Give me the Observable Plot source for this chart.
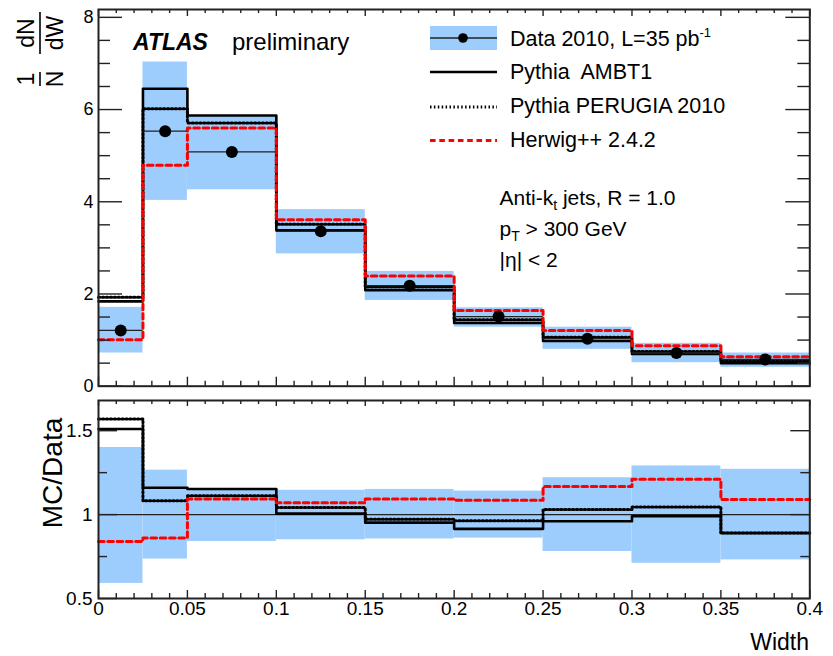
<!DOCTYPE html>
<html>
<head>
<meta charset="utf-8">
<script src="https://cdn.jsdelivr.net/npm/d3@7"></script>
<script src="https://cdn.jsdelivr.net/npm/@observablehq/plot@0.6"></script>
<style>
  body { margin: 0; background: #fff; }
  #chart { position: relative; width: 833px; height: 656px; font-family: "Liberation Sans", Arial, Helvetica, sans-serif; }
  #chart svg { position: absolute; left: 0; overflow: visible; }
  .pre { white-space: pre; }
</style>
</head>
<body>
<div id="chart"></div>
<script>
// Jet width bins (variable width: the first two are half as wide)
const binEdges = [0, 0.025, 0.05, 0.1, 0.15, 0.2, 0.25, 0.3, 0.35, 0.4];

// Normalised distribution 1/N dN/dW
const data2010    = [1.21, 5.53, 5.08, 3.36, 2.18, 1.51, 1.03, 0.72, 0.58];
const data2010Lo  = [0.72, 4.03, 4.26, 2.87, 1.86, 1.28, 0.80, 0.51, 0.41];
const data2010Hi  = [1.71, 7.03, 5.87, 3.83, 2.49, 1.70, 1.28, 0.93, 0.72];
const pythiaAMBT1 = [1.84, 6.45, 5.87, 3.38, 2.08, 1.37, 0.98, 0.70, 0.50];
const pythiaPerugia = [1.93, 6.02, 5.71, 3.51, 2.15, 1.44, 1.06, 0.75, 0.54];
const herwig      = [1.01, 4.79, 5.60, 3.61, 2.39, 1.64, 1.21, 0.88, 0.64];

// MC/Data ratios and the relative data uncertainty band
const ratioBandLo = [0.59, 0.735, 0.84, 0.85, 0.855, 0.86, 0.78, 0.71, 0.73];
const ratioBandHi = [1.40, 1.265, 1.155, 1.145, 1.15, 1.14, 1.22, 1.29, 1.27];
const ratioAMBT1   = [1.51, 1.16, 1.153, 1.006, 0.952, 0.915, 0.96, 0.99, 0.89];
const ratioPerugia = [1.57, 1.083, 1.113, 1.043, 0.972, 0.964, 1.03, 1.046, 0.89];
const ratioHerwig  = [0.84, 0.86, 1.093, 1.07, 1.093, 1.085, 1.167, 1.21, 1.09];

// Axis ticks
const xLabelTicks = [0, 0.05, 0.1, 0.15, 0.2, 0.25, 0.3, 0.35, 0.4];
const yTopTicks = [0, 2, 4, 6, 8];
const yRatioTicks = [0.5, 1, 1.5];

const font = `"Liberation Sans", Arial, Helvetica, sans-serif`;
const blue = "#9dcdfc";

// shared panel geometry
const W = 833, mL = 98, mR = 23.7;
const innerW = W - mL - mR;

const bins = data2010.map((v, i) => ({
  x1: binEdges[i], x2: binEdges[i + 1], xc: (binEdges[i] + binEdges[i + 1]) / 2,
  v, lo: data2010Lo[i], hi: data2010Hi[i],
  rlo: ratioBandLo[i], rhi: ratioBandHi[i]
}));

// histogram outline: one point per bin edge, drawn with a step curve
const steps = vals => [
  ...vals.map((v, i) => ({x: binEdges[i], y: v})),
  {x: binEdges[binEdges.length - 1], y: vals[vals.length - 1]}
];

const near = (a, b) => Math.abs(a - b) < 1e-9;
const xMinor = d3.range(0, 0.4001, 0.01).filter(t => !xLabelTicks.some(m => near(m, t)));
const yTopMinor = d3.range(0, 8.01, 0.5).filter(t => !yTopTicks.includes(t));
const yRatioMinor = [0.75, 1.25];

// inward ticks on all four sides of a panel, drawn as short rules
const tk = {stroke: "#222", strokeWidth: 1.4};
function ticksX(innerH, major, minor, majLen, minLen) {
  return [
    Plot.ruleX(major, {...tk, x: d => d, insetTop: innerH - majLen}),
    Plot.ruleX(minor, {...tk, x: d => d, insetTop: innerH - minLen}),
    Plot.ruleX(major, {...tk, x: d => d, insetBottom: innerH - majLen + 2}),
    Plot.ruleX(minor, {...tk, x: d => d, insetBottom: innerH - minLen + 1})
  ];
}
function ticksY(major, minor, majLen, minLen) {
  return [
    Plot.ruleY(major, {...tk, y: d => d, insetRight: innerW - majLen}),
    Plot.ruleY(minor, {...tk, y: d => d, insetRight: innerW - minLen}),
    Plot.ruleY(major, {...tk, y: d => d, insetLeft: innerW - majLen}),
    Plot.ruleY(minor, {...tk, y: d => d, insetLeft: innerW - minLen})
  ];
}

const mcLines = (a, p, h) => [
  Plot.line(steps(a), {x: "x", y: "y", curve: "step-after", stroke: "black", strokeWidth: 2.6}),
  Plot.line(steps(p), {x: "x", y: "y", curve: "step-after", stroke: "black", strokeWidth: 3, strokeDasharray: "1.5,2.4"}),
  Plot.line(steps(h), {x: "x", y: "y", curve: "step-after", stroke: "#ff0000", strokeWidth: 3, strokeDasharray: "5.6,3.7"})
];

const style = {fontFamily: font, fontSize: "18px", color: "black", background: "none", overflow: "visible"};

// ---- upper panel: normalised distributions ----
const upperH = 390, upperTop = 9, upperBottom = 4.3;
const upperPanel = Plot.plot({
  width: W, height: upperH,
  marginLeft: mL, marginRight: mR, marginTop: upperTop, marginBottom: upperBottom,
  style,
  x: {domain: [0, 0.4], axis: null},
  y: {domain: [0, 8.17]},
  marks: [
    Plot.rect(bins, {x1: "x1", x2: "x2", y1: "lo", y2: "hi", fill: blue}),
    ...mcLines(pythiaAMBT1, pythiaPerugia, herwig),
    Plot.ruleY(bins, {y: "v", x1: "x1", x2: "x2", stroke: "#222", strokeWidth: 1.3}),
    Plot.dot(bins, {x: "xc", y: "v", r: 6, fill: "black"}),
    ...ticksX(upperH - upperTop - upperBottom, xLabelTicks, xMinor, 9, 5),
    ...ticksY(yTopTicks, yTopMinor, 24, 12),
    Plot.axisY({ticks: yTopTicks, tickSize: 0, tickPadding: 5, label: null, fontSize: 18}),
    Plot.frame({stroke: "#222", strokeWidth: 2})
  ]
});
upperPanel.style.top = "0px";

// ---- lower panel: MC/Data ----
const lowerH = 266, lowerTop = 10, lowerBottom = 58;
const lowerPanel = Plot.plot({
  width: W, height: lowerH,
  marginLeft: mL, marginRight: mR, marginTop: lowerTop, marginBottom: lowerBottom,
  style,
  x: {domain: [0, 0.4]},
  y: {domain: [0.5, 1.68]},
  marks: [
    Plot.rect(bins, {x1: "x1", x2: "x2", y1: "rlo", y2: "rhi", fill: blue}),
    Plot.ruleY([1], {stroke: "#222", strokeWidth: 1.2}),
    ...mcLines(ratioAMBT1, ratioPerugia, ratioHerwig),
    ...ticksX(lowerH - lowerTop - lowerBottom, xLabelTicks, xMinor, 8, 5),
    ...ticksY(yRatioTicks, yRatioMinor, 19, 9),
    Plot.axisX({ticks: xLabelTicks, tickSize: 0, tickPadding: 2.5, label: null, fontSize: 19, tickFormat: d => String(d)}),
    Plot.axisY({ticks: yRatioTicks, tickSize: 0, tickPadding: 6, label: null, fontSize: 19, tickFormat: d => String(d)}),
    Plot.frame({stroke: "#222", strokeWidth: 2})
  ]
});
lowerPanel.style.top = "390px";

const chart = document.getElementById("chart");
chart.append(upperPanel, lowerPanel);

// ---- annotations on the upper panel ----
const st = d3.select(upperPanel);
const txt = (sel, x, y, size, s) => sel.append("text").attr("x", x).attr("y", y)
  .attr("text-anchor", "start").attr("font-family", font).attr("font-size", size)
  .attr("fill", "black").text(s);

txt(st, 133, 50, 23, "ATLAS").attr("font-weight", "bold").attr("font-style", "italic");
txt(st, 232, 50, 24, "preliminary");

// legend
const lx1 = 430, lx2 = 497, tx = 510;
st.append("rect").attr("x", lx1).attr("y", 26).attr("width", lx2 - lx1).attr("height", 24).attr("fill", blue);
st.append("line").attr("x1", lx1).attr("x2", lx2).attr("y1", 38).attr("y2", 38).attr("stroke", "#222").attr("stroke-width", 1.5);
st.append("circle").attr("cx", 463).attr("cy", 38).attr("r", 4.8).attr("fill", "black");
const legData = txt(st, tx, 45.7, 21.5, "Data 2010, L=35 pb");
legData.append("tspan").attr("font-size", 13).attr("dy", -9).text("-1");

st.append("line").attr("x1", lx1).attr("x2", lx2).attr("y1", 72).attr("y2", 72).attr("stroke", "black").attr("stroke-width", 2.4);
txt(st, tx, 78.5, 21.5, "Pythia  AMBT1").attr("class", "pre");

st.append("line").attr("x1", lx1).attr("x2", lx2).attr("y1", 107).attr("y2", 107).attr("stroke", "black").attr("stroke-width", 3).attr("stroke-dasharray", "1.5,2.4");
txt(st, tx, 113, 21.5, "Pythia PERUGIA 2010");

st.append("line").attr("x1", lx1).attr("x2", lx2).attr("y1", 140.5).attr("y2", 140.5).attr("stroke", "#ff0000").attr("stroke-width", 3).attr("stroke-dasharray", "5.6,3.7");
txt(st, tx, 147, 21.5, "Herwig++ 2.4.2");

// selection
const l1 = txt(st, 499.5, 205, 21, "Anti-k");
l1.append("tspan").attr("font-size", 14).attr("dy", 5).text("t");
l1.append("tspan").attr("dy", -5).text(" jets, R = 1.0");
const l2 = txt(st, 499.5, 236, 21, "p");
l2.append("tspan").attr("font-size", 14).attr("dy", 5).text("T");
l2.append("tspan").attr("dy", -5).text(" > 300 GeV");
txt(st, 499.5, 266.7, 21, "|\u03b7| < 2");

// y title: 1/N dN/dW, rotated
const yt = st.append("g").attr("font-family", font).attr("font-size", 23).attr("fill", "black").attr("text-anchor", "middle");
const rtxt = (x, y, s) => yt.append("text").attr("transform", `translate(${x},${y}) rotate(-90)`).text(s);
rtxt(34, 79, "1");
rtxt(63, 79, "N");
rtxt(34, 33, "dN");
rtxt(63, 33, "dW");
yt.append("line").attr("x1", 40).attr("x2", 40).attr("y1", 72).attr("y2", 86).attr("stroke", "black").attr("stroke-width", 1.6);
yt.append("line").attr("x1", 40).attr("x2", 40).attr("y1", 12).attr("y2", 54).attr("stroke", "black").attr("stroke-width", 1.6);

// ---- titles on the lower panel ----
const sb = d3.select(lowerPanel);
sb.append("text").attr("transform", "translate(62,83) rotate(-90)").attr("text-anchor", "middle")
  .attr("font-family", font).attr("font-size", 28).attr("fill", "black").text("MC/Data");
sb.append("text").attr("x", 809).attr("y", 260).attr("text-anchor", "end")
  .attr("font-family", font).attr("font-size", 23).attr("fill", "black").text("Width");
</script>
</body>
</html>
